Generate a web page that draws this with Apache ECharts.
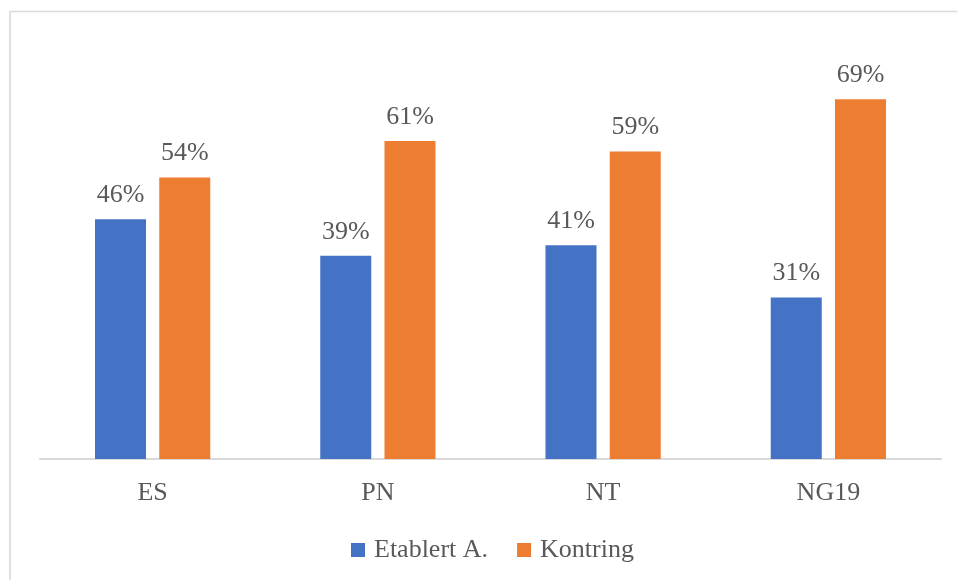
<!DOCTYPE html>
<html>
<head>
<meta charset="utf-8">
<script src="https://cdn.jsdelivr.net/npm/echarts@6/dist/echarts.min.js"></script>
<style>
  html, body { margin: 0; padding: 0; background: #fff; }
  #chart { width: 957px; height: 580px; }
</style>
</head>
<body>
<div id="chart"></div>
<script>
// kategorier og verdier (prosent)
var categories = ['ES', 'PN', 'NT', 'NG19'];
var seriesNames = ['Etablert A.', 'Kontring'];
var etablert = [46, 39, 41, 31];
var kontring = [54, 61, 59, 69];

var fontFam = '"Liberation Serif", "Times New Roman", serif';
var textCol = '#595959';

var chart = echarts.init(document.getElementById('chart'));

function barSeries(name, data, color) {
    return {
        name: name,
        type: 'bar',
        data: data,
        barWidth: 51,
        barGap: '26%',
        itemStyle: { color: color },
        label: {
            show: true,
            position: 'top',
            distance: 11,
            color: textCol,
            fontFamily: fontFam,
            fontSize: 26,
            formatter: function (p) { return p.value + '%'; }
        }
    };
}

var option = {
    animation: false,
    // ramme rundt diagrammet
    graphic: [{
        type: 'rect',
        shape: { x: 10, y: 11.5, width: 1000, height: 1000 },
        style: { fill: 'none', stroke: '#d9d9d9', lineWidth: 1.6 }
    }],
    grid: { left: 40, right: 16, top: 42, bottom: 121 },
    legend: {
        data: seriesNames,
        left: 346,
        top: 532,
        itemWidth: 14,
        itemHeight: 14,
        itemGap: 29,
        icon: 'rect',
        textStyle: {
            color: textCol,
            fontFamily: fontFam,
            fontSize: 26,
            padding: [0, 0, 0, 4]
        }
    },
    xAxis: {
        type: 'category',
        data: categories,
        axisLine: { lineStyle: { color: '#d9d9d9', width: 2 } },
        axisTick: { show: false },
        axisLabel: {
            color: textCol,
            fontFamily: fontFam,
            fontSize: 26,
            margin: 21
        }
    },
    yAxis: {
        type: 'value',
        min: 0,
        max: 80,
        show: false,
        splitLine: { show: false }
    },
    series: [
        barSeries(seriesNames[0], etablert, '#4472C4'),
        barSeries(seriesNames[1], kontring, '#ED7D31')
    ]
};

chart.setOption(option);
</script>
</body>
</html>
